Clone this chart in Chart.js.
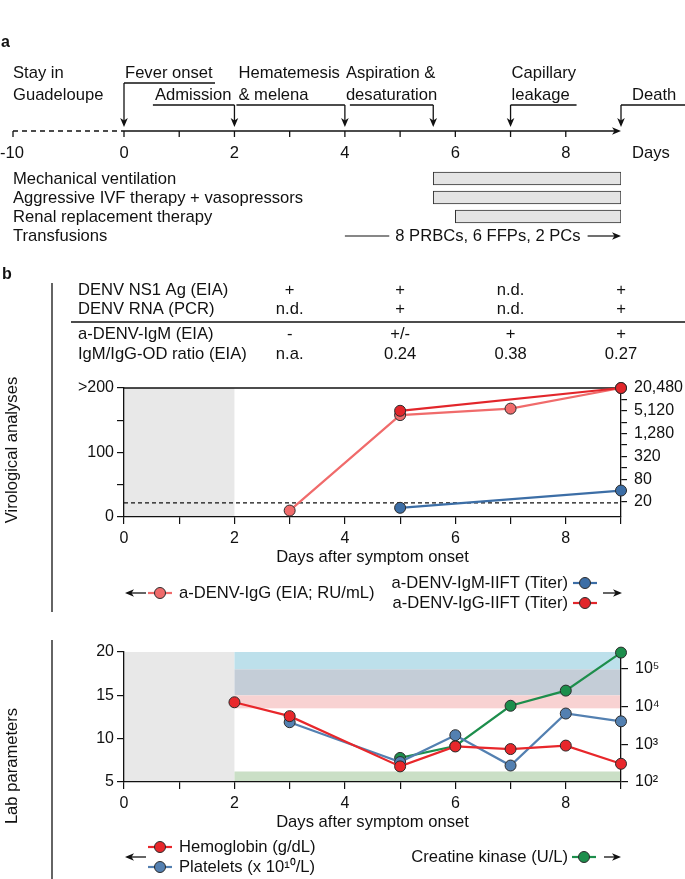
<!DOCTYPE html>
<html><head><meta charset="utf-8">
<script src="https://cdn.jsdelivr.net/npm/chart.js@4.4.1/dist/chart.umd.min.js"></script>
<style>
html,body{margin:0;padding:0;background:#fff;}
#wrap{position:relative;width:685px;height:879px;overflow:hidden;background:#fff;}
canvas{position:absolute;left:0;}
</style></head><body>
<div id="wrap">
<canvas id="cA" width="685" height="365" style="top:0px"></canvas>
<canvas id="cB" width="685" height="250" style="top:365px"></canvas>
<canvas id="cC" width="685" height="264" style="top:615px"></canvas>
</div>
<script>
// ================= DATA =================
// Panel a: timeline
const timelineTickDays = [0, 2, 4, 6, 8];
const timelineStartLabel = '-10';
const timelineUnit = 'Days';
const stayLabel = ['Stay in', 'Guadeloupe'];
const eventDays = [0, 2, 4, 5.6, 7, 9];
const eventLabels = [['Fever onset'], ['Admission'], ['Hematemesis', '& melena'], ['Aspiration &', 'desaturation'], ['Capillary', 'leakage'], ['Death']];
const therapyNames = ['Mechanical ventilation', 'Aggressive IVF therapy + vasopressors', 'Renal replacement therapy', 'Transfusions'];
const therapyStart = [5.6, 5.6, 6, null];
const therapyEnd = [9, 9, 9, null];
const transfusionText = '8 PRBCs, 6 FFPs, 2 PCs';
const transfusionDays = [4, 9];

// Panel b: table
const tableDays = [3, 5, 7, 9];
const tableRowLabels = ['DENV NS1 Ag (EIA)', 'DENV RNA (PCR)', 'a-DENV-IgM (EIA)', 'IgM/IgG-OD ratio (EIA)'];
const ns1Ag = ['+', '+', 'n.d.', '+'];
const denvRna = ['n.d.', '+', 'n.d.', '+'];
const igmEia = ['-', '+/-', '+', '+'];
const odRatio = ['n.a.', '0.24', '0.38', '0.27'];

// Shared x axis
const dayTicks = [0, 1, 2, 3, 4, 5, 6, 7, 8, 9];
const dayTickLabels = ['0', '', '2', '', '4', '', '6', '', '8', ''];
const preAdmissionDays = [0, 2];
const hospitalDays = [2, 9];

// Virology chart
const igGEiaDays = [3, 5, 7, 9];
const igGEiaValues = [10, 158, 168, 200];
const igGIiftDays = [5, 9];
const igGIiftTiters = [5120, 20480];
const igMIiftDays = [5, 9];
const igMIiftTiters = [14, 40];
const eiaCutoff = 22;
const eiaTicks = [0, 50, 100, 150, 200];
const eiaTickLabels = ['0', '', '100', '', '>200'];
const titerTicks = [20, 40, 80, 160, 320, 640, 1280, 2560, 5120, 10240, 20480];
const titerTickLabels = ['20', '', '80', '', '320', '', '1,280', '', '5,120', '', '20,480'];

// Lab chart
const hbDays = [2, 3, 5, 6, 7, 8, 9];
const hbValues = [14.2, 12.6, 6.8, 9.1, 8.8, 9.2, 7.1];
const pltDays = [3, 5, 6, 7, 8, 9];
const pltValues = [11.9, 7.3, 10.4, 6.9, 12.9, 12.0];
const ckDays = [5, 6, 7, 8, 9];
const ckValues = [435, 900, 10500, 26500, 270000];
const labTicks = [5, 10, 15, 20];
const ckTicks = [100, 1000, 10000, 100000];
const ckTickLabels = ['10\u00b2', '10\u00b3', '10\u2074', '10\u2075'];
const pltRange = [15, 40];
const hbRange = [13.5, 18];
const ckRange = [100, 190];

// ================= STYLE =================
const FF = '"Liberation Sans", Arial, Helvetica, sans-serif';
const F16 = {family: FF, size: 16};
const F165 = {family: FF, size: 16.6};
const TFONT = '16.6px ' + FF;
const C = {
  igGEia: '#f06b6b', igGIift: '#e2262b', igMIift: '#3c6ea6',
  hb: '#e8272b', plt: '#5380b1', ck: '#1d8e4c',
  gray: '#e8e8e8', pltBand: '#bde0eb', overlap: '#c4cdd7', hbBand: '#f8d2d2', ckBand: '#cadfc6'
};

function txt(ctx, s, x, y, align, font) {
  ctx.font = font || TFONT;
  ctx.textAlign = align || 'left';
  ctx.textBaseline = 'middle';
  ctx.fillStyle = '#111';
  ctx.fillText(s, x, y);
}
function seg(ctx, x1, y1, x2, y2) { ctx.beginPath(); ctx.moveTo(x1, y1); ctx.lineTo(x2, y2); ctx.stroke(); }
function head(ctx, x, y, dir) {
  const len = 9, half = 3.8;
  ctx.beginPath();
  if (dir === 'down') { ctx.moveTo(x, y); ctx.lineTo(x - half, y - len); ctx.lineTo(x, y - len + 2.5); ctx.lineTo(x + half, y - len); }
  else if (dir === 'right') { ctx.moveTo(x, y); ctx.lineTo(x - len, y - half); ctx.lineTo(x - len + 2.5, y); ctx.lineTo(x - len, y + half); }
  else { ctx.moveTo(x, y); ctx.lineTo(x + len, y - half); ctx.lineTo(x + len - 2.5, y); ctx.lineTo(x + len, y + half); }
  ctx.closePath(); ctx.fillStyle = '#111'; ctx.fill();
}
function sample(ctx, cx, y, color) {
  ctx.strokeStyle = color; ctx.lineWidth = 2.2; seg(ctx, cx - 12, y, cx + 12, y);
  ctx.beginPath(); ctx.arc(cx, y, 5.5, 0, Math.PI * 2); ctx.fillStyle = color; ctx.fill();
  ctx.strokeStyle = '#2b2b2b'; ctx.lineWidth = 1; ctx.stroke();
}
function vtitle(ctx, s, x, y) {
  ctx.save(); ctx.translate(x, y); ctx.rotate(-Math.PI / 2); txt(ctx, s, 0, 0, 'center'); ctx.restore();
}
const base = {animation: false, responsive: false, devicePixelRatio: 1, events: []};

// ================= PANEL A + TABLE =================
const timelinePlugin = {
  id: 'timeline',
  afterDraw(chart) {
    const ctx = chart.ctx, xs = chart.scales.x, ys = chart.scales.y;
    const X = d => xs.getPixelForValue(d);
    ctx.save();
    ctx.strokeStyle = '#111'; ctx.fillStyle = '#111';
    txt(ctx, 'a', 1, 43, 'left', 'bold 16px ' + FF);
    // axis
    const axY = 131;
    ctx.lineWidth = 1.3;
    seg(ctx, X(0), axY, X(9) - 5, axY);
    head(ctx, X(9), axY, 'right');
    ctx.setLineDash([5, 4]); seg(ctx, 13, axY, X(0), axY); ctx.setLineDash([]);
    seg(ctx, 13, axY, 13, axY + 6);
    for (let d = 0; d <= 8; d++) seg(ctx, X(d), axY, X(d), axY + 6);
    txt(ctx, timelineStartLabel, 0, 153, 'left');
    timelineTickDays.forEach(d => txt(ctx, String(d), X(d), 153, 'center'));
    txt(ctx, timelineUnit, X(9) + 11, 153, 'left');
    // stay
    txt(ctx, stayLabel[0], 13, 73); txt(ctx, stayLabel[1], 13, 95);
    // events
    const r1 = 73, r2 = 95, bLow = 105, tip = 127;
    ctx.lineWidth = 1.3;
    eventDays.forEach((d, i) => {
      const x = X(d), L = eventLabels[i];
      let by = bLow, bx1, bx2;
      if (i === 0) { txt(ctx, L[0], x + 1, r1); by = 83; bx1 = x; bx2 = x + 91; }
      else if (i === 1) { ctx.font = TFONT; const w = ctx.measureText(L[0]).width; txt(ctx, L[0], x - 3, r2, 'right'); bx1 = x - 3 - w - 2; bx2 = x; }
      else if (i === 2) { const xp = X(eventDays[i - 1]); txt(ctx, L[0], xp + 4, r1); txt(ctx, L[1], xp + 4, r2); bx1 = xp + 2; bx2 = x; }
      else if (i === 3) { const xp = X(eventDays[i - 1]); txt(ctx, L[0], xp + 1, r1); txt(ctx, L[1], xp + 1, r2); bx1 = xp + 5; bx2 = x; }
      else if (i === 4) { txt(ctx, L[0], x + 1, r1); txt(ctx, L[1], x + 1, r2); bx1 = x; bx2 = x + 66; }
      else { txt(ctx, L[0], x + 11, r2); bx1 = x; bx2 = 685; }
      ctx.strokeStyle = '#111';
      seg(ctx, bx1, by, bx2, by);
      seg(ctx, x, by, x, tip - 4);
      head(ctx, x, tip, 'down');
    });
    // therapy names
    therapyNames.forEach((n, i) => txt(ctx, n, 13, ys.getPixelForValue(i) + 0.5));
    // transfusions
    const ty = ys.getPixelForValue(3) + 0.5;
    ctx.font = TFONT;
    const tw = ctx.measureText(transfusionText).width;
    const tcx = (X(transfusionDays[0]) + X(transfusionDays[1])) / 2 + 5;
    txt(ctx, transfusionText, tcx, ty, 'center');
    ctx.lineWidth = 1.2; ctx.strokeStyle = '#111';
    seg(ctx, X(transfusionDays[0]), ty, tcx - tw / 2 - 6, ty);
    seg(ctx, tcx + tw / 2 + 7, ty, X(transfusionDays[1]) - 5, ty);
    head(ctx, X(transfusionDays[1]), ty, 'right');
    // panel b
    txt(ctx, 'b', 2, 275, 'left', 'bold 16px ' + FF);
    ctx.lineWidth = 1.3; seg(ctx, 52, 283, 52, 365);
    // table
    const rowY = [290, 309, 334, 354];
    const rows = [ns1Ag, denvRna, igmEia, odRatio];
    tableRowLabels.forEach((lab, r) => {
      txt(ctx, lab, 78, rowY[r]);
      tableDays.forEach((d, c) => txt(ctx, rows[r][c], X(d), rowY[r], 'center'));
    });
    ctx.lineWidth = 1.3; seg(ctx, 71, 322, 685, 322);
    ctx.restore();
  }
};

new Chart(document.getElementById('cA'), {
  type: 'bar',
  data: {
    labels: therapyNames,
    datasets: [{
      data: therapyStart.map((s, i) => s === null ? null : [s, therapyEnd[i]]),
      backgroundColor: '#e4e4e4', borderColor: '#333', borderWidth: 1, borderSkipped: false, barThickness: 13
    }]
  },
  options: Object.assign({}, base, {
    indexAxis: 'y',
    layout: {padding: {left: 124, right: 64, top: 169, bottom: 120}, autoPadding: false},
    plugins: {legend: {display: false}, tooltip: {enabled: false}},
    scales: {
      x: {type: 'linear', min: 0, max: 9, display: false},
      y: {type: 'category', display: false}
    }
  }),
  plugins: [timelinePlugin]
});

// ================= SHARED AXIS BUILDERS =================
function xAxis() {
  return {
    type: 'linear', min: 0, max: 9,
    afterBuildTicks: s => { s.ticks = dayTicks.map(v => ({value: v})); },
    ticks: {autoSkip: false, maxRotation: 0, padding: 5, color: '#111', font: F16,
      callback: v => { const i = dayTicks.indexOf(v); return i < 0 ? '' : dayTickLabels[i]; }},
    grid: {drawOnChartArea: false, drawTicks: true, tickLength: 7, color: '#111', lineWidth: 1.2},
    border: {display: true, color: '#111', width: 1.3},
    title: {display: true, text: 'Days after symptom onset', color: '#111', font: F165, padding: {top: 0, bottom: 0}},
    afterFit: s => { s.height = 50; }
  };
}
function yAxis(pos, type, min, max, ticks, labels, width, tl, pad) {
  return {
    type, position: pos, min, max,
    afterBuildTicks: s => { s.ticks = ticks.map(v => ({value: v})); },
    ticks: {autoSkip: false, padding: pad, color: '#111', font: F16,
      callback: v => { const i = ticks.indexOf(v); return i < 0 ? '' : labels[i]; }},
    grid: {drawOnChartArea: false, drawTicks: true, tickLength: tl, color: '#111', lineWidth: 1.2},
    border: {display: true, color: '#111', width: 1.3},
    afterFit: s => { s.width = width; }
  };
}
function lineDs(label, days, vals, color, axis, order) {
  return {label, data: days.map((d, i) => ({x: d, y: vals[i]})), yAxisID: axis,
    borderColor: color, backgroundColor: color, pointBackgroundColor: color,
    pointBorderColor: '#2b2b2b', pointBorderWidth: 1, pointRadius: 5.5,
    borderWidth: 2.2, tension: 0, clip: false, order};
}

// ================= VIROLOGY CHART =================
const TOP_B = 365;
const viroPlugin = {
  id: 'viro',
  beforeDraw(chart) {
    const {ctx, chartArea: a} = chart, xs = chart.scales.x;
    ctx.save(); ctx.fillStyle = C.gray;
    const x0 = xs.getPixelForValue(preAdmissionDays[0]), x1 = xs.getPixelForValue(preAdmissionDays[1]);
    ctx.fillRect(x0, a.top, x1 - x0, a.bottom - a.top);
    ctx.restore();
  },
  beforeDatasetsDraw(chart) {
    const {ctx, chartArea: a} = chart, yL = chart.scales.yL;
    ctx.save(); ctx.strokeStyle = '#111'; ctx.lineWidth = 1.2;
    ctx.setLineDash([4, 3]);
    const yc = yL.getPixelForValue(eiaCutoff);
    seg(ctx, a.left, yc, a.right, yc);
    ctx.setLineDash([]); ctx.lineWidth = 1.3;
    seg(ctx, a.left, a.top, a.right, a.top);
    ctx.restore();
  },
  afterDraw(chart) {
    const ctx = chart.ctx;
    ctx.save(); ctx.translate(0, -TOP_B);
    ctx.strokeStyle = '#111'; ctx.lineWidth = 1.3; seg(ctx, 52, 365, 52, 612);
    vtitle(ctx, 'Virological analyses', 12, 450);
    // legend left
    ctx.strokeStyle = '#111'; ctx.lineWidth = 1.3; seg(ctx, 131, 593, 146, 593); head(ctx, 125, 593, 'left');
    sample(ctx, 160, 593, C.igGEia);
    txt(ctx, 'a-DENV-IgG (EIA; RU/mL)', 179, 593);
    // legend right
    txt(ctx, 'a-DENV-IgM-IIFT (Titer)', 568, 583, 'right');
    sample(ctx, 585, 583, C.igMIift);
    txt(ctx, 'a-DENV-IgG-IIFT (Titer)', 568, 603, 'right');
    sample(ctx, 585, 603, C.igGIift);
    ctx.strokeStyle = '#111'; ctx.lineWidth = 1.3; seg(ctx, 603, 593, 617, 593); head(ctx, 622, 593, 'right');
    ctx.restore();
  }
};
new Chart(document.getElementById('cB'), {
  type: 'line',
  data: {datasets: [
    lineDs('a-DENV-IgG-IIFT (Titer)', igGIiftDays, igGIiftTiters, C.igGIift, 'yR', 1),
    lineDs('a-DENV-IgG (EIA; RU/mL)', igGEiaDays, igGEiaValues, C.igGEia, 'yL', 2),
    lineDs('a-DENV-IgM-IIFT (Titer)', igMIiftDays, igMIiftTiters, C.igMIift, 'yR', 3)
  ]},
  options: Object.assign({}, base, {
    layout: {padding: {left: 0, right: 0, top: 23, bottom: 48}, autoPadding: false},
    plugins: {legend: {display: false}, tooltip: {enabled: false}},
    scales: {
      x: xAxis(),
      yL: yAxis('left', 'linear', 0, 200, eiaTicks, eiaTickLabels, 124, 7, 3),
      yR: yAxis('right', 'logarithmic', 8, 20480, titerTicks, titerTickLabels, 64, 6, 7)
    }
  }),
  plugins: [viroPlugin]
});

// ================= LAB CHART =================
const TOP_C = 615;
const labPlugin = {
  id: 'lab',
  beforeDraw(chart) {
    const {ctx, chartArea: a} = chart, xs = chart.scales.x, yL = chart.scales.yL, yR = chart.scales.yR;
    const X = d => xs.getPixelForValue(d);
    const clampL = v => Math.min(Math.max(v, yL.min), yL.max);
    const band = (lo, hi, color) => {
      if (hi <= lo) return;
      const yt = yL.getPixelForValue(clampL(hi)), yb = yL.getPixelForValue(clampL(lo));
      ctx.fillStyle = color; ctx.fillRect(X(hospitalDays[0]), yt, X(hospitalDays[1]) - X(hospitalDays[0]), yb - yt);
    };
    ctx.save();
    ctx.fillStyle = C.gray;
    ctx.fillRect(X(preAdmissionDays[0]), a.top, X(preAdmissionDays[1]) - X(preAdmissionDays[0]), a.bottom - a.top);
    band(Math.max(pltRange[0], hbRange[1]), pltRange[1], C.pltBand);
    band(Math.max(pltRange[0], hbRange[0]), Math.min(pltRange[1], hbRange[1]), C.overlap);
    band(hbRange[0], Math.min(hbRange[1], pltRange[0]), C.hbBand);
    const ckt = yR.getPixelForValue(ckRange[1]), ckb = yR.getPixelForValue(Math.max(ckRange[0], yR.min));
    ctx.fillStyle = C.ckBand;
    ctx.fillRect(X(hospitalDays[0]), ckt, X(hospitalDays[1]) - X(hospitalDays[0]), ckb - ckt);
    ctx.restore();
  },
  afterDraw(chart) {
    const ctx = chart.ctx;
    ctx.save(); ctx.translate(0, -TOP_C);
    ctx.strokeStyle = '#111'; ctx.lineWidth = 1.3; seg(ctx, 52, 640, 52, 879);
    vtitle(ctx, 'Lab parameters', 12, 766);
    ctx.strokeStyle = '#111'; ctx.lineWidth = 1.3; seg(ctx, 131, 857, 146, 857); head(ctx, 125, 857, 'left');
    sample(ctx, 160, 847, C.hb);
    txt(ctx, 'Hemoglobin (g/dL)', 179, 847);
    sample(ctx, 160, 867, C.plt);
    txt(ctx, 'Platelets (x 10\u00b9\u2070/L)', 179, 867);
    txt(ctx, 'Creatine kinase (U/L)', 568, 857, 'right');
    sample(ctx, 584, 857, C.ck);
    ctx.strokeStyle = '#111'; ctx.lineWidth = 1.3; seg(ctx, 604, 857, 616, 857); head(ctx, 621, 857, 'right');
    ctx.restore();
  }
};
new Chart(document.getElementById('cC'), {
  type: 'line',
  data: {datasets: [
    lineDs('Hemoglobin (g/dL)', hbDays, hbValues, C.hb, 'yL', 1),
    lineDs('Platelets (x 10^10/L)', pltDays, pltValues, C.plt, 'yL', 2),
    lineDs('Creatine kinase (U/L)', ckDays, ckValues, C.ck, 'yR', 3)
  ]},
  options: Object.assign({}, base, {
    layout: {padding: {left: 0, right: 0, top: 37, bottom: 47}, autoPadding: false},
    plugins: {legend: {display: false}, tooltip: {enabled: false}},
    scales: {
      x: xAxis(),
      yL: yAxis('left', 'linear', 5, 20, labTicks, labTicks.map(String), 124, 7, 3),
      yR: yAxis('right', 'logarithmic', 100, 280000, ckTicks, ckTickLabels, 64, 7, 7)
    }
  }),
  plugins: [labPlugin]
});
</script>
</body></html>
